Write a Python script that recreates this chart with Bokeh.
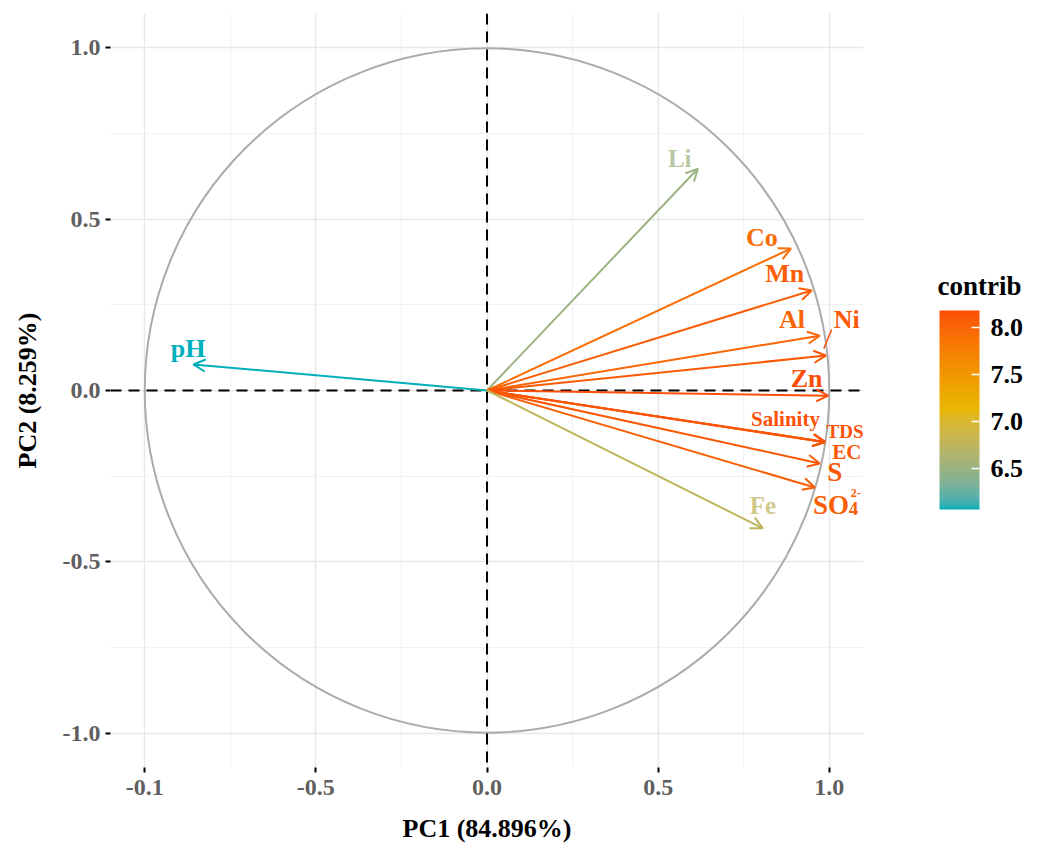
import numpy as np
from bokeh.plotting import figure
from bokeh.layouts import row
from bokeh.models import (ColumnDataSource, LinearColorMapper, ColorBar, Arrow, OpenHead,
                          Span, FixedTicker, PrintfTickFormatter, Range1d, LabelSet, Label)
from bokeh.transform import transform
from bokeh.core.properties import value
from bokeh.embed import file_html
from bokeh.resources import INLINE

# ---------------- data ----------------
variables = ["pH", "Li", "Co", "Mn", "Al", "Ni", "Zn", "Salinity", "TDS", "EC", "S", "SO4", "Fe"]
pc1 = [-0.858, 0.616, 0.888, 0.949, 0.972, 0.990, 0.997, 0.987, 0.988, 0.987, 0.972, 0.958, 0.806]
pc2 = [0.076, 0.647, 0.414, 0.292, 0.160, 0.102, -0.015, -0.150, -0.150, -0.151, -0.213, -0.283, -0.402]
contrib = [6.06, 6.50, 7.92, 8.06, 8.00, 8.10, 8.18, 8.14, 8.15, 8.13, 8.10, 8.05, 6.75]
# label anchors (repelled text positions)
label_x = [-0.873, 0.563, 0.803, 0.870, 0.891, 1.051, 0.934, 0.872, 1.046, 1.051, 1.016, 1.005, 0.806]
label_y = [0.122, 0.676, 0.446, 0.341, 0.207, 0.207, 0.035, -0.082, -0.119, -0.178, -0.239, -0.335, -0.335]
label_text = ["pH", "Li", "Co", "Mn", "Al", "Ni", "Zn", "Salinity", "TDS", "EC", "S", "SO", "Fe"]

x_ticks = [-1.0, -0.5, 0.0, 0.5, 1.0]
x_tick_labels = ["-0.1", "-0.5", "0.0", "0.5", "1.0"]
y_ticks = [-1.0, -0.5, 0.0, 0.5, 1.0]
y_tick_labels = ["-1.0", "-0.5", "0.0", "0.5", "1.0"]
minor_ticks = [-0.75, -0.25, 0.25, 0.75]
cbar_ticks = [6.5, 7.0, 7.5, 8.0]
gradient_cols = ["#00AFBB", "#E7B800", "#FC4E07"]

FONT = "Liberation Serif"
TOP, FRAME_H, BOTTOM = 13, 754, 73

# ---------------- Lab-interpolated palette (like ggplot gradientn) ----------------
def hex_to_rgb(h):
    h = h.lstrip("#")
    return np.array([int(h[i:i + 2], 16) / 255 for i in (0, 2, 4)])

def rgb_to_lab(rgb):
    c = np.where(rgb > 0.04045, ((rgb + 0.055) / 1.055) ** 2.4, rgb / 12.92)
    M = np.array([[0.4124, 0.3576, 0.1805], [0.2126, 0.7152, 0.0722], [0.0193, 0.1192, 0.9505]])
    xyz = M @ c / np.array([0.95047, 1.0, 1.08883])
    f = np.where(xyz > 0.008856, np.cbrt(xyz), 7.787 * xyz + 16 / 116)
    return np.array([116 * f[1] - 16, 500 * (f[0] - f[1]), 200 * (f[1] - f[2])])

def lab_to_hex(lab):
    L, a, b = lab
    fy = (L + 16) / 116
    fx = fy + a / 500
    fz = fy - b / 200
    f = np.array([fx, fy, fz])
    xyz = np.where(f ** 3 > 0.008856, f ** 3, (f - 16 / 116) / 7.787) * np.array([0.95047, 1.0, 1.08883])
    Mi = np.array([[3.2406, -1.5372, -0.4986], [-0.9689, 1.8758, 0.0415], [0.0557, -0.2040, 1.0570]])
    c = Mi @ xyz
    c = np.where(c > 0.0031308, 1.055 * np.abs(c) ** (1 / 2.4) - 0.055, 12.92 * c)
    c = np.clip(c, 0, 1)
    return "#%02x%02x%02x" % tuple(int(round(v * 255)) for v in c)

labs = [rgb_to_lab(hex_to_rgb(h)) for h in gradient_cols]
palette = []
for i in range(256):
    t = i / 255
    if t <= 0.5:
        u = t / 0.5
        lab = labs[0] * (1 - u) + labs[1] * u
    else:
        u = (t - 0.5) / 0.5
        lab = labs[1] * (1 - u) + labs[2] * u
    palette.append(lab_to_hex(lab))

mapper = LinearColorMapper(palette=palette, low=min(contrib), high=max(contrib))

# ---------------- main figure ----------------
p = figure(frame_width=753, frame_height=FRAME_H, x_range=Range1d(-1.1, 1.1), y_range=Range1d(-1.1, 1.1),
           output_backend="svg", toolbar_location=None,
           min_border_left=110, min_border_right=10, min_border_top=TOP, min_border_bottom=BOTTOM)
p.outline_line_color = None
p.background_fill_color = "white"

for ax, ticks, labels in ((p.xaxis, x_ticks, x_tick_labels), (p.yaxis, y_ticks, y_tick_labels)):
    ax.ticker = FixedTicker(ticks=ticks, minor_ticks=minor_ticks)
    ax.major_label_overrides = {t: l for t, l in zip(ticks, labels)}
    ax.axis_line_color = None
    ax.major_tick_line_color = "black"
    ax.major_tick_line_width = 2
    ax.major_tick_out = 5
    ax.major_tick_in = 0
    ax.minor_tick_line_color = None
    ax.major_label_text_font = FONT
    ax.major_label_text_font_size = "24px"
    ax.major_label_text_font_style = "bold"
    ax.major_label_text_color = "#5f5f5f"
    ax.axis_label_text_font = FONT
    ax.axis_label_text_font_size = "26px"
    ax.axis_label_text_font_style = "bold"
    ax.axis_label_text_color = "black"

p.xaxis.major_label_standoff = 7
p.yaxis.major_label_standoff = 5
p.xaxis.axis_label = "PC1 (84.896%)"
p.yaxis.axis_label = "PC2 (8.259%)"
p.xaxis.axis_label_standoff = 16
p.yaxis.axis_label_standoff = 18

p.grid.grid_line_color = "#E8E8E8"
p.grid.grid_line_width = 1.5
p.grid.minor_grid_line_color = "#F2F2F2"
p.grid.minor_grid_line_width = 1.2

# correlation circle
p.circle(x=[0], y=[0], radius=1, fill_color=None, line_color="#ABABAB", line_width=2)

# dashed zero lines
p.add_layout(Span(location=0, dimension="height", line_color="black", line_dash="11 7", line_width=2))
p.add_layout(Span(location=0, dimension="width", line_color="black", line_dash="11 7", line_width=2))

# arrows
n = len(variables)
arrow_src = ColumnDataSource(dict(x0=[0.0] * n, y0=[0.0] * n, x1=pc1, y1=pc2, contrib=contrib))
p.add_layout(Arrow(source=arrow_src, x_start="x0", y_start="y0", x_end="x1", y_end="y1",
                   line_color=transform("contrib", mapper), line_width=2,
                   end=OpenHead(size=12, line_width=2, line_color=transform("contrib", mapper))))

# Ni repel connector
i_ni = variables.index("Ni")
p.segment(x0=[label_x[i_ni] - 0.044], y0=[label_y[i_ni] - 0.029], x1=[label_x[i_ni] - 0.067],
          y1=[label_y[i_ni] - 0.085], line_color=palette[-1], line_width=1.5)

def label_group(names, size, alpha=1.0, align="center", dx=0.0, dy=0.0, texts=None):
    idx = [variables.index(nm) for nm in names]
    src = ColumnDataSource(dict(x=[label_x[i] + dx for i in idx], y=[label_y[i] + dy for i in idx],
                                text=texts if texts else [label_text[i] for i in idx],
                                contrib=[contrib[i] for i in idx]))
    p.add_layout(LabelSet(x="x", y="y", text="text", source=src,
                          text_color=transform("contrib", mapper), text_alpha=alpha,
                          text_font=value(FONT), text_font_style="bold", text_font_size=size,
                          text_align=align, text_baseline="middle"))

label_group(["pH", "Co", "Mn", "Al", "Ni", "Zn"], "26px")
label_group(["Li", "Fe"], "25px", alpha=0.72)
label_group(["Salinity", "EC"], "21px")
label_group(["TDS"], "19px")
label_group(["S", "SO4"], "27px")
# SO4 subscript and superscript
label_group(["SO4"], "19px", align="left", dx=0.052, dy=-0.009, texts=["4"])
label_group(["SO4"], "12px", align="left", dx=0.058, dy=0.035, texts=["2-"])

# ---------------- legend panel (colour bar + its title) ----------------
# its frame is aligned with the main frame: page y 13..767, x from 873
LEG_W = 1025 - (110 + 753 + 10)
q = figure(frame_width=LEG_W, frame_height=FRAME_H, x_range=Range1d(0, LEG_W), y_range=Range1d(0, FRAME_H),
           x_axis_location=None, y_axis_location=None, toolbar_location=None,
           output_backend="svg", min_border_left=0, min_border_right=0,
           min_border_top=TOP, min_border_bottom=BOTTOM)
q.outline_line_color = None
q.grid.grid_line_color = None

frame_left, frame_bottom = 873, TOP + FRAME_H
cb = ColorBar(color_mapper=mapper, width=40, height=199, orientation="vertical",
              ticker=FixedTicker(ticks=cbar_ticks), formatter=PrintfTickFormatter(format="%.1f"),
              major_label_text_font=FONT, major_label_text_font_size="26px",
              major_label_text_font_style="bold", major_label_text_color="black",
              major_tick_line_color="white", major_tick_in=8, major_tick_out=0,
              major_tick_line_width=1.5, minor_tick_line_color=None,
              label_standoff=11, padding=0, margin=0,
              background_fill_color=None, border_line_color=None, bar_line_color=None,
              location=(939 - frame_left, frame_bottom - 509))
q.add_layout(cb, "center")
q.add_layout(Label(x=937 - frame_left, y=frame_bottom - 285, text="contrib",
                   text_font=FONT, text_font_size="27px", text_font_style="bold",
                   text_color="black", text_align="left", text_baseline="middle"))

layout = row(p, q, spacing=0)
open("out.html", "w").write(file_html(layout, INLINE))
